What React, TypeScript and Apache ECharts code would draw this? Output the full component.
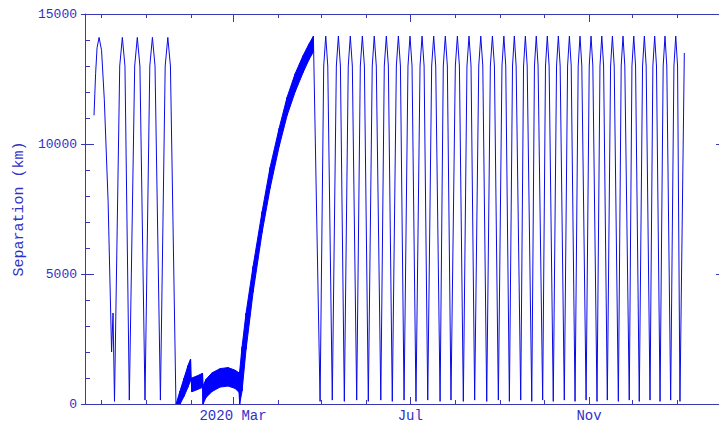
import React, { useEffect, useRef } from "react";
import * as echarts from "echarts";

// x values are days counted from 2020-01-01
const X_MIN = -41.9;
const X_MAX = 398.6;
const MONTH_STARTS = [-31, 0, 31, 60, 91, 121, 152, 182, 213, 244, 274, 305, 335, 366];
const MAJOR_TICKS = [60, 182, 305];
const MAJOR_LABELS = ["2020 Mar", "Jul", "Nov"];

const Y_MIN = 0;
const Y_MAX = 15000;
const Y_STEP = 5000;
const Y_NAME = "Separation (km)";

// first oscillating stretch
const EARLY_DAY = [-35.7, -34.6, -33.6, -32.2, -30.5, -28.6, -26.0, -23.6, -22.6, -21.6, -18.0, -16.2, -14.4, -11.4, -7.7, -5.9, -4.1, -0.6, 2.7, 4.5, 6.3, 10.0, 13.3, 15.1, 16.9, 20.7];
const EARLY_KM = [11100, 12700, 13700, 14100, 13600, 11700, 7800, 2000, 3500, 100, 13000, 14100, 13000, 150, 13000, 14100, 13000, 150, 13000, 14100, 13000, 150, 13000, 14100, 13000, 0];

// thick band (fast oscillation) : lower and upper envelopes
const BAND_DAY = [20.8, 23.5, 26.3, 29.0, 30.75, 31.2, 31.6, 35.2, 39.0, 39.35, 41.4, 45.55, 51.05, 56.55, 61.4, 64.1, 64.55, 66.2, 68.95, 73.8, 80.0, 85.5, 91.7, 97.2, 102.7, 108.2, 112.3, 115.3];
const BAND_LOW = [0, 0, 300, 650, 900, 980, 470, 550, 640, 0, 250, 480, 650, 690, 600, 450, 0, 500, 2100, 4300, 6600, 8300, 9900, 11100, 12000, 12750, 13250, 13550];
const BAND_HIGH = [0, 500, 1000, 1480, 1730, 1000, 1000, 1080, 1180, 700, 950, 1200, 1360, 1400, 1300, 1200, 1250, 2200, 3500, 5300, 7400, 9100, 10600, 11800, 12700, 13400, 13850, 14150];

// regular oscillations after the band (trough, shoulder, peak, shoulder, ...)
const LATE_DAY = [
  115.3, 119.9,
  122.4, 123.8, 125.2, 128.3,
  131.1, 132.5, 133.9, 136.6,
  139.3, 140.7, 142.1, 145.1,
  147.6, 149.0, 150.4, 153.1,
  155.8, 157.2, 158.6, 161.7,
  164.1, 165.5, 166.9, 169.6,
  172.4, 173.8, 175.2, 177.7,
  180.4, 181.8, 183.2, 185.9,
  188.7, 190.1, 191.5, 194.0,
  196.7, 198.1, 199.5, 202.5,
  204.7, 206.1, 207.5, 210.0,
  213.0, 214.4, 215.8, 218.5,
  221.0, 222.4, 223.8, 226.3,
  229.1, 230.5, 231.9, 234.6,
  237.1, 238.5, 239.9, 242.6,
  245.1, 246.4, 247.7, 250.2,
  252.35, 253.6, 254.85, 258.0,
  259.95, 261.2, 262.45, 265.6,
  267.45, 268.7, 269.95, 273.1,
  275.05, 276.3, 277.55, 280.4,
  282.65, 283.9, 285.15, 288.0,
  290.25, 291.5, 292.75, 295.4,
  297.55, 298.8, 300.05, 303.0,
  305.15, 306.4, 307.65, 310.5,
  312.55, 313.8, 315.05, 317.6,
  319.85, 321.1, 322.35, 325.2,
  327.15, 328.4, 329.65, 332.7,
  334.55, 335.8, 337.05, 339.6,
  341.85, 343.1, 344.35, 347.0,
  348.95, 350.2, 351.45, 353.9,
  356.05, 357.3, 358.55, 361.2,
  363.45, 364.7, 365.95, 367.6,
  370.6,
];
const LATE_KM = [
  14150, 100,
  13000, 14150, 13000, 150,
  13000, 14150, 13000, 100,
  13000, 14150, 13000, 150,
  13000, 14150, 13000, 100,
  13000, 14150, 13000, 150,
  13000, 14150, 13000, 100,
  13000, 14150, 13000, 150,
  13000, 14150, 13000, 100,
  13000, 14150, 13000, 150,
  13000, 14150, 13000, 100,
  13000, 14150, 13000, 150,
  13000, 14150, 13000, 100,
  13000, 14150, 13000, 150,
  13000, 14150, 13000, 100,
  13000, 14150, 13000, 150,
  13000, 14150, 13000, 100,
  13000, 14150, 13000, 150,
  13000, 14150, 13000, 100,
  13000, 14150, 13000, 150,
  13000, 14150, 13000, 100,
  13000, 14150, 13000, 150,
  13000, 14150, 13000, 100,
  13000, 14150, 13000, 150,
  13000, 14150, 13000, 100,
  13000, 14150, 13000, 150,
  13000, 14150, 13000, 100,
  13000, 14150, 13000, 150,
  13000, 14150, 13000, 100,
  13000, 14150, 13000, 150,
  13000, 14150, 13000, 100,
  13000, 14150, 13000, 150,
  13000, 14150, 13000, 100,
  13500,
];

const AXIS_COLOR = "#3838b4";
const TEXT_COLOR = "#3030c8";
const LINE_COLOR = "#0a0ae6";
const BAND_COLOR = "#0000ff";
const FONT = "Liberation Mono";

function xAxisDef(position: "top" | "bottom", ticks: number[], len: number, withLine: boolean, withLabels: boolean) {
  return {
    type: "value",
    position,
    min: X_MIN,
    max: X_MAX,
    axisLine: { show: withLine, onZero: false, lineStyle: { color: AXIS_COLOR, width: 1 } },
    axisTick: { show: true, inside: true, length: len, customValues: ticks, lineStyle: { color: AXIS_COLOR, width: 1 } },
    axisLabel: withLabels
      ? {
          show: true,
          customValues: MAJOR_TICKS,
          formatter: (v: number) => {
            const i = MAJOR_TICKS.findIndex((t) => Math.abs(t - v) < 0.5);
            return i >= 0 ? MAJOR_LABELS[i] : "";
          },
          margin: 5,
          color: TEXT_COLOR,
          fontFamily: FONT,
          fontSize: 14,
        }
      : { show: false },
    splitLine: { show: false },
    minorTick: { show: false },
  };
}

export default function App() {
  const ref = useRef<HTMLDivElement>(null);
  useEffect(() => {
    if (!ref.current) return;
    const chart = echarts.init(ref.current, undefined, { renderer: "svg" });
    const early = EARLY_DAY.map((d, i) => [d, EARLY_KM[i]]);
    const late = LATE_DAY.map((d, i) => [d, LATE_KM[i]]);
    const band = BAND_DAY.map((d, i) => [d, BAND_LOW[i], BAND_HIGH[i]]);
    const lineBase = { type: "line", symbol: "none", showSymbol: false, silent: true, xAxisIndex: 0, yAxisIndex: 0 };
    chart.setOption({
      animation: false,
      backgroundColor: "#ffffff",
      grid: { left: 85, width: 640, top: 14, bottom: 24, containLabel: false },
      xAxis: [
        xAxisDef("bottom", MAJOR_TICKS, 7, true, true),
        xAxisDef("bottom", MONTH_STARTS, 4, false, false),
        xAxisDef("top", MAJOR_TICKS, 8, true, false),
        xAxisDef("top", MONTH_STARTS, 4, false, false),
      ],
      yAxis: [
        {
          type: "value",
          position: "left",
          min: Y_MIN,
          max: Y_MAX,
          interval: Y_STEP,
          name: Y_NAME,
          nameLocation: "middle",
          nameGap: 57,
          nameTextStyle: { color: TEXT_COLOR, fontFamily: FONT, fontSize: 15 },
          axisLine: { show: true, onZero: false, lineStyle: { color: AXIS_COLOR, width: 1 } },
          axisTick: { show: true, inside: true, length: 9, lineStyle: { color: AXIS_COLOR, width: 1 } },
          minorTick: { show: true, splitNumber: 5, length: 5, lineStyle: { color: AXIS_COLOR, width: 1 } },
          axisLabel: { margin: 8, color: TEXT_COLOR, fontFamily: FONT, fontSize: 13, formatter: (v: number) => String(v) },
          splitLine: { show: false },
        },
        {
          type: "value",
          position: "right",
          min: Y_MIN,
          max: Y_MAX,
          interval: Y_STEP,
          axisLine: { show: true, onZero: false, lineStyle: { color: AXIS_COLOR, width: 1 } },
          axisTick: { show: true, inside: true, length: 9, lineStyle: { color: AXIS_COLOR, width: 1 } },
          minorTick: { show: true, splitNumber: 5, length: 5, lineStyle: { color: AXIS_COLOR, width: 1 } },
          axisLabel: { show: false },
          splitLine: { show: false },
        },
        {
          type: "value",
          position: "left",
          min: Y_MIN,
          max: Y_MAX,
          interval: Y_STEP,
          axisLine: { show: false, onZero: false },
          axisTick: { show: true, inside: false, length: 4, lineStyle: { color: AXIS_COLOR, width: 1 } },
          axisLabel: { show: false },
          splitLine: { show: false },
        },
      ],
      series: [
        { ...lineBase, name: "early", data: early, lineStyle: { color: LINE_COLOR, width: 1 } },
        {
          type: "custom",
          name: "band",
          silent: true,
          clip: true,
          xAxisIndex: 0,
          yAxisIndex: 0,
          encode: { x: 0, y: [1, 2] },
          data: band,
          renderItem: (params: any, api: any) => {
            const i = params.dataIndex;
            if (i >= band.length - 1) return null;
            const a = band[i];
            const b = band[i + 1];
            const pts = [
              api.coord([a[0], a[1]]),
              api.coord([b[0], b[1]]),
              api.coord([b[0], b[2]]),
              api.coord([a[0], a[2]]),
            ];
            return {
              type: "polygon",
              shape: { points: pts },
              style: { fill: BAND_COLOR, stroke: BAND_COLOR, lineWidth: 1 },
            };
          },
        },
        { ...lineBase, name: "late", data: late, lineStyle: { color: LINE_COLOR, width: 1 } },
      ],
    });
    return () => chart.dispose();
  }, []);
  return <div ref={ref} style={{ position: "fixed", left: 0, top: 0, width: 726, height: 428, background: "#fff" }} />;
}
